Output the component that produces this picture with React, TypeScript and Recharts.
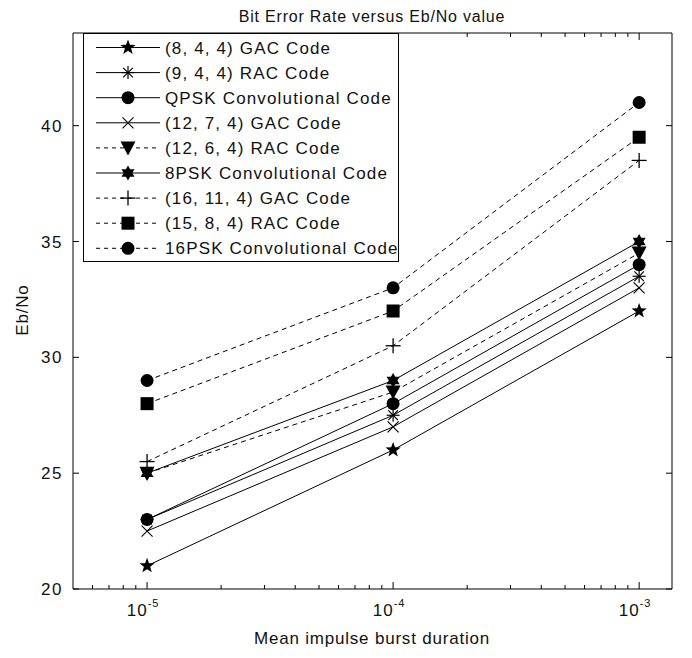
import React from 'react';
import { LineChart, Line, XAxis, YAxis } from 'recharts';

// burst durations and Eb/No for each code
const durations = [1e-5, 1e-4, 1e-3];
const gac844 = [21, 26, 32];
const rac944 = [23, 27.5, 33.5];
const qpskConv = [23, 28, 34];
const gac1274 = [22.5, 27, 33];
const rac1264 = [25, 28.5, 34.5];
const psk8Conv = [25, 29, 35];
const gac16114 = [25.5, 30.5, 38.5];
const rac1584 = [28, 32, 39.5];
const psk16Conv = [29, 33, 41];

const xTicks = [
  6e-6, 7e-6, 8e-6, 9e-6, 1e-5,
  2e-5, 3e-5, 4e-5, 5e-5, 6e-5, 7e-5, 8e-5, 9e-5, 1e-4,
  2e-4, 3e-4, 4e-4, 5e-4, 6e-4, 7e-4, 8e-4, 9e-4, 1e-3,
];
const yTicks = [20, 25, 30, 35, 40];

const FONT = '"Liberation Sans", Arial, sans-serif';
const INK = '#111';

type Kind = 'pentagram' | 'asterisk' | 'circle' | 'cross' | 'triangle' | 'hexagram' | 'plus' | 'square';

const series: { key: string; name: string; values: number[]; kind: Kind; dashed: boolean }[] = [
  { key: 'gac844', name: '(8, 4, 4) GAC Code', values: gac844, kind: 'pentagram', dashed: false },
  { key: 'rac944', name: '(9, 4, 4) RAC Code', values: rac944, kind: 'asterisk', dashed: false },
  { key: 'qpskConv', name: 'QPSK Convolutional Code', values: qpskConv, kind: 'circle', dashed: false },
  { key: 'gac1274', name: '(12, 7, 4) GAC Code', values: gac1274, kind: 'cross', dashed: false },
  { key: 'rac1264', name: '(12, 6, 4) RAC Code', values: rac1264, kind: 'triangle', dashed: true },
  { key: 'psk8Conv', name: '8PSK Convolutional Code', values: psk8Conv, kind: 'hexagram', dashed: false },
  { key: 'gac16114', name: '(16, 11, 4) GAC Code', values: gac16114, kind: 'plus', dashed: true },
  { key: 'rac1584', name: '(15, 8, 4) RAC Code', values: rac1584, kind: 'square', dashed: true },
  { key: 'psk16Conv', name: '16PSK Convolutional Code', values: psk16Conv, kind: 'circle', dashed: true },
];

const data = durations.map((x, i) => {
  const row: Record<string, number> = { x };
  series.forEach(s => { row[s.key] = s.values[i]; });
  return row;
});

const starPath = (cx: number, cy: number, n: number, ro: number, ri: number) => {
  const pts: string[] = [];
  for (let i = 0; i < n * 2; i++) {
    const r = i % 2 === 0 ? ro : ri;
    const a = -Math.PI / 2 + (i * Math.PI) / n;
    pts.push(`${(cx + r * Math.cos(a)).toFixed(2)},${(cy + r * Math.sin(a)).toFixed(2)}`);
  }
  return `M${pts.join('L')}Z`;
};

const Marker = ({ kind, cx, cy }: { kind: Kind; cx: number; cy: number }) => {
  switch (kind) {
    case 'pentagram':
      return <path d={starPath(cx, cy, 5, 8, 3.3)} fill="#000" />;
    case 'hexagram':
      return <path d={starPath(cx, cy, 6, 7.5, 4.3)} fill="#000" />;
    case 'circle':
      return <circle cx={cx} cy={cy} r={6.5} fill="#000" />;
    case 'square':
      return <rect x={cx - 6.5} y={cy - 6.5} width={13} height={13} fill="#000" />;
    case 'triangle':
      return <path d={`M${cx - 7.5},${cy - 6.5}L${cx + 7.5},${cy - 6.5}L${cx},${cy + 7.5}Z`} fill="#000" />;
    case 'plus':
      return (
        <g stroke="#000" strokeWidth={1.3}>
          <line x1={cx - 7.5} y1={cy} x2={cx + 7.5} y2={cy} />
          <line x1={cx} y1={cy - 7.5} x2={cx} y2={cy + 7.5} />
        </g>
      );
    case 'cross':
      return (
        <g stroke="#000" strokeWidth={1.1}>
          <line x1={cx - 5.5} y1={cy - 5.5} x2={cx + 5.5} y2={cy + 5.5} />
          <line x1={cx - 5.5} y1={cy + 5.5} x2={cx + 5.5} y2={cy - 5.5} />
        </g>
      );
    case 'asterisk':
      return (
        <g stroke="#000" strokeWidth={1.2}>
          <line x1={cx - 6.5} y1={cy} x2={cx + 6.5} y2={cy} />
          <line x1={cx} y1={cy - 6.5} x2={cx} y2={cy + 6.5} />
          <line x1={cx - 4.8} y1={cy - 4.8} x2={cx + 4.8} y2={cy + 4.8} />
          <line x1={cx - 4.8} y1={cy + 4.8} x2={cx + 4.8} y2={cy - 4.8} />
        </g>
      );
  }
  return null;
};

const isMajor = (v: number) => {
  const e = Math.log10(v);
  return Math.abs(e - Math.round(e)) < 1e-9;
};

// MATLAB-style ticks: drawn inward from the box edge
const BottomTick = (props: any) => {
  const { x, y, payload } = props;
  const major = isMajor(payload.value);
  return (
    <g>
      <line x1={x} y1={y} x2={x} y2={y - (major ? 7 : 4)} stroke="#000" />
      {major && (
        <text x={x - 4} y={y + 27} textAnchor="middle" fontFamily={FONT} fontSize={17} fill={INK} letterSpacing={1}>
          10
          <tspan dy={-9} fontSize={11}>{Math.round(Math.log10(payload.value))}</tspan>
        </text>
      )}
    </g>
  );
};

const TopTick = (props: any) => {
  const { x, y, payload } = props;
  const major = isMajor(payload.value);
  return <line x1={x} y1={y} x2={x} y2={y + (major ? 7 : 4)} stroke="#000" />;
};

const LeftTick = (props: any) => {
  const { x, y, payload } = props;
  return (
    <g>
      <line x1={x} y1={y} x2={x + 6} y2={y} stroke="#000" />
      <text x={x - 10} y={y + 6} textAnchor="end" fontFamily={FONT} fontSize={17} fill={INK} letterSpacing={1.5}>
        {payload.value}
      </text>
    </g>
  );
};

const RightTick = (props: any) => {
  const { x, y } = props;
  return <line x1={x} y1={y} x2={x - 6} y2={y} stroke="#000" />;
};

const LegendBox = () => (
  <svg width={316} height={229} style={{ position: 'absolute', left: 83, top: 33 }}>
    <rect x={0.5} y={0.5} width={315} height={228} fill="#fff" stroke="#000" />
    {series.map((s, i) => {
      const cy = 14.5 + i * 25.1;
      return (
        <g key={s.key}>
          <line x1={13} y1={cy} x2={77} y2={cy} stroke="#000" strokeDasharray={s.dashed ? '4 4' : undefined} />
          <Marker kind={s.kind} cx={45} cy={cy} />
          <text x={82} y={cy + 6} fontFamily={FONT} fontSize={17} fill={INK} letterSpacing={1.15}>
            {s.name}
          </text>
        </g>
      );
    })}
  </svg>
);

export default function App() {
  return (
    <div style={{ position: 'absolute', left: 0, top: 0, width: 692, height: 658, background: '#fff' }}>
      <LineChart width={692} height={658} data={data} margin={{ top: 32, right: 19, bottom: 0, left: 0 }}>
        <XAxis
          xAxisId="b"
          dataKey="x"
          type="number"
          scale="log"
          domain={[5e-6, 1.36e-3]}
          allowDataOverflow
          ticks={xTicks}
          interval={0}
          height={69}
          tickSize={0}
          tickMargin={0}
          tickLine={false}
          axisLine={{ stroke: '#000' }}
          tick={<BottomTick />}
        />
        <XAxis
          xAxisId="t"
          orientation="top"
          dataKey="x"
          type="number"
          scale="log"
          domain={[5e-6, 1.36e-3]}
          allowDataOverflow
          ticks={xTicks}
          interval={0}
          height={1}
          tickSize={0}
          tickMargin={0}
          tickLine={false}
          axisLine={{ stroke: '#000' }}
          tick={<TopTick />}
        />
        <YAxis
          yAxisId="l"
          type="number"
          domain={[20, 44]}
          allowDataOverflow
          ticks={yTicks}
          interval={0}
          width={73}
          tickSize={0}
          tickMargin={0}
          tickLine={false}
          axisLine={{ stroke: '#000' }}
          tick={<LeftTick />}
        />
        <YAxis
          yAxisId="r"
          orientation="right"
          type="number"
          domain={[20, 44]}
          allowDataOverflow
          ticks={yTicks}
          interval={0}
          width={1}
          tickSize={0}
          tickMargin={0}
          tickLine={false}
          axisLine={{ stroke: '#000' }}
          tick={<RightTick />}
        />
        {series.map(s => (
          <Line
            key={s.key}
            xAxisId="b"
            yAxisId="l"
            type="linear"
            dataKey={s.key}
            name={s.name}
            stroke="#000"
            strokeWidth={1}
            strokeDasharray={s.dashed ? '5 4' : undefined}
            dot={(p: any) => <Marker key={`${s.key}-${p.index}`} kind={s.kind} cx={p.cx} cy={p.cy} />}
            activeDot={false}
            isAnimationActive={false}
          />
        ))}
      </LineChart>
      <svg width={692} height={658} style={{ position: 'absolute', left: 0, top: 0, pointerEvents: 'none' }}>
        <text x={372} y={22} textAnchor="middle" fontFamily={FONT} fontSize={16} fill={INK} letterSpacing={0.8}>
          Bit Error Rate versus Eb/No value
        </text>
        <text x={372} y={644} textAnchor="middle" fontFamily={FONT} fontSize={17} fill={INK} letterSpacing={0.8}>
          Mean impulse burst duration
        </text>
        <text x={28} y={310} textAnchor="middle" fontFamily={FONT} fontSize={17} fill={INK} letterSpacing={0.8}
          transform="rotate(-90 28 310)">
          Eb/No
        </text>
      </svg>
      <LegendBox />
    </div>
  );
}
